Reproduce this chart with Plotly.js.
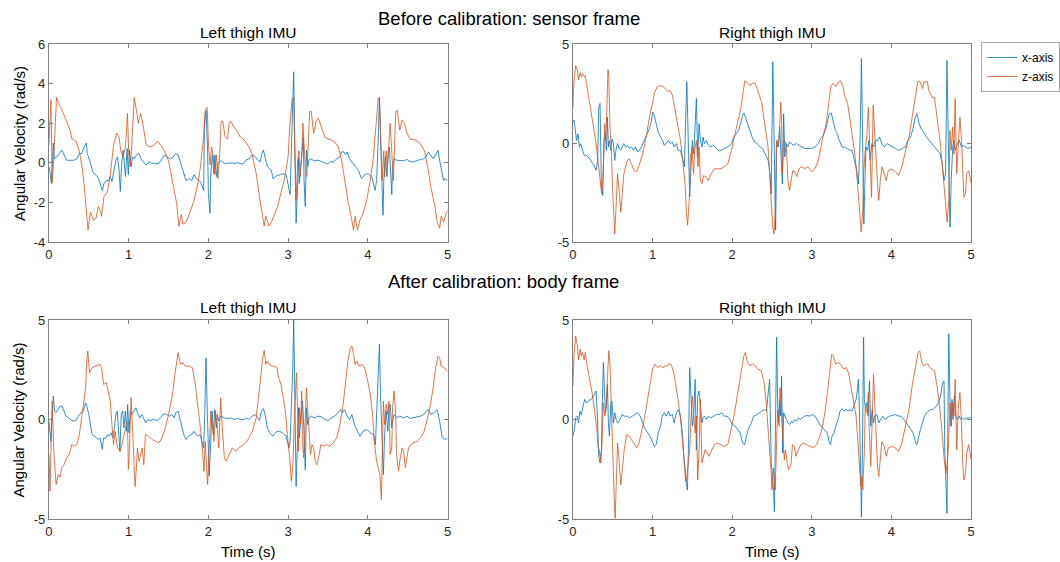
<!DOCTYPE html>
<html><head><meta charset="utf-8">
<script src="https://cdn.plot.ly/plotly-3.0.1.min.js"></script>
<style>html,body{margin:0;padding:0;background:#fff}#chart{width:1060px;height:562px}</style>
</head><body><div id="chart"></div>
<script>
// ---- data: [time (s), angular velocity (rad/s)] ----
const timeTicks = [0, 1, 2, 3, 4, 5];
const seriesNames = ['x-axis', 'z-axis'];
const panelTitles = ['Left thigh IMU', 'Right thigh IMU'];
const rowTitles = ['Before calibration: sensor frame', 'After calibration: body frame'];

const leftBeforeX = [[0,-0.2],[0.013,-0.45],[0.03,-1.05],[0.04,0.13],[0.055,1.0],[0.07,0.2],[0.1,0.3],[0.13,0.47],[0.16,0.64],[0.19,0.4],[0.22,0.13],[0.26,0.13],[0.31,0.13],[0.35,0.2],[0.38,0.47],[0.41,0.47],[0.44,0.8],[0.47,1.0],[0.48,0.47],[0.51,0.13],[0.53,-0.2],[0.55,-0.45],[0.58,-0.6],[0.61,-0.7],[0.63,-0.9],[0.67,-1.4],[0.69,-1.05],[0.72,-0.9],[0.75,-0.9],[0.77,-0.7],[0.79,-0.95],[0.82,-0.2],[0.84,0.13],[0.86,0.3],[0.88,-0.37],[0.895,-1.45],[0.91,-0.2],[0.93,0.64],[0.945,0],[0.96,-0.7],[0.98,0.72],[0.995,-0.6],[1.01,0.64],[1.03,-0.2],[1.05,0.3],[1.07,0.2],[1.1,0.4],[1.13,0.47],[1.155,0.2],[1.19,0.05],[1.22,-0.12],[1.25,0.05],[1.29,-0.03],[1.34,-0.03],[1.38,-0.03],[1.42,0.2],[1.45,0.4],[1.48,0.3],[1.525,0.2],[1.56,0.3],[1.59,0.47],[1.62,0.4],[1.64,0.13],[1.67,-0.2],[1.69,-0.55],[1.72,-0.9],[1.76,-0.8],[1.79,-0.9],[1.82,-0.6],[1.85,-0.8],[1.89,-0.9],[1.91,-1.05],[1.94,-1.4],[1.95,1.8],[1.97,2.65],[1.99,0.64],[2.0,-1.55],[2.02,-2.55],[2.03,-0.55],[2.05,0.4],[2.07,-0.55],[2.08,0.4],[2.1,-0.7],[2.12,0],[2.16,0.1],[2.2,-0.03],[2.24,-0.03],[2.28,0],[2.32,-0.03],[2.37,0],[2.43,-0.07],[2.47,0.13],[2.51,0.2],[2.55,0.4],[2.59,0.3],[2.62,0.13],[2.65,0.05],[2.67,0.47],[2.69,0.64],[2.71,0.3],[2.74,-0.2],[2.79,-0.37],[2.81,-0.8],[2.85,-0.67],[2.89,-0.6],[2.93,-0.55],[2.975,-0.6],[3.01,-1.2],[3.025,-1.6],[3.04,0.64],[3.06,2.8],[3.07,4.6],[3.08,2.0],[3.1,-3.05],[3.12,-1.05],[3.13,0.3],[3.14,-1.05],[3.16,0],[3.18,0.64],[3.19,1.3],[3.2,-0.9],[3.215,-2.2],[3.23,0.64],[3.245,-0.2],[3.26,0.13],[3.29,0.2],[3.32,0.1],[3.36,0.13],[3.4,0.1],[3.45,0],[3.49,-0.07],[3.53,0.05],[3.57,0.05],[3.61,0.2],[3.65,0.3],[3.67,0.55],[3.7,0.55],[3.72,0.4],[3.74,0.55],[3.77,0.2],[3.8,0.05],[3.84,-0.12],[3.88,-0.37],[3.92,-0.8],[3.96,-0.6],[4.0,-0.55],[4.05,-0.7],[4.09,-1.4],[4.11,-0.9],[4.13,1.15],[4.145,3.3],[4.16,1.15],[4.19,-2.65],[4.2,-0.9],[4.22,0.3],[4.24,-0.7],[4.255,0.47],[4.27,0.8],[4.29,-0.55],[4.3,-1.6],[4.31,-0.2],[4.33,0.2],[4.36,0.13],[4.4,0.13],[4.45,0.1],[4.49,0.17],[4.53,0.05],[4.57,0.05],[4.62,0.13],[4.66,0.17],[4.7,0.2],[4.73,0.3],[4.76,0.55],[4.79,0.4],[4.82,0.2],[4.85,0.4],[4.88,0.64],[4.9,0.13],[4.93,-0.55],[4.95,-0.9],[4.97,-0.8],[5.0,-0.9]];

const leftBeforeZ = [[0,0.9],[0.025,3.2],[0.04,-1.0],[0.06,0.2],[0.095,3.3],[0.13,2.9],[0.15,2.8],[0.18,2.5],[0.22,2.2],[0.26,1.7],[0.29,1.2],[0.34,1.1],[0.38,0.6],[0.42,-0.3],[0.45,-1.5],[0.48,-3.0],[0.49,-3.4],[0.52,-2.5],[0.56,-2.9],[0.59,-2.8],[0.62,-2.2],[0.65,-2.5],[0.66,-2.7],[0.69,-1.7],[0.73,-1.5],[0.77,-0.6],[0.81,0.9],[0.85,1.5],[0.88,1.3],[0.9,0.6],[0.93,0.3],[0.96,0.8],[0.985,2.5],[1.0,0.5],[1.02,-0.2],[1.04,1.0],[1.07,3.3],[1.1,2.6],[1.12,2.0],[1.15,2.5],[1.18,1.9],[1.22,0.9],[1.27,0.8],[1.32,0.9],[1.36,1.1],[1.4,0.9],[1.45,0.6],[1.5,0.1],[1.55,-0.9],[1.6,-2.0],[1.63,-3.2],[1.66,-2.6],[1.68,-3.1],[1.72,-3.0],[1.76,-2.6],[1.82,-1.9],[1.87,-1.0],[1.9,-0.2],[1.94,1.3],[1.96,2.7],[1.985,2.8],[2.0,1.0],[2.02,-0.1],[2.04,0.8],[2.06,0.3],[2.08,-0.6],[2.1,0.4],[2.12,-0.8],[2.14,0.3],[2.16,2.1],[2.18,2.1],[2.21,1.3],[2.24,1.2],[2.26,2.0],[2.28,2.1],[2.32,1.8],[2.36,1.6],[2.4,1.3],[2.45,1.15],[2.51,0.8],[2.55,0.4],[2.6,-0.55],[2.64,-1.7],[2.68,-2.7],[2.7,-3.2],[2.72,-2.7],[2.76,-3.2],[2.79,-3.0],[2.83,-2.6],[2.87,-2.2],[2.91,-1.5],[2.95,-0.9],[3.0,0.3],[3.02,1.8],[3.05,3.25],[3.07,3.3],[3.08,1.1],[3.1,-1.9],[3.12,0.1],[3.135,0.6],[3.15,-0.7],[3.17,0.3],[3.185,2.0],[3.2,0.8],[3.22,-0.5],[3.235,-0.7],[3.25,1.15],[3.27,2.6],[3.29,2.6],[3.32,1.5],[3.35,2.1],[3.38,2.25],[3.42,1.75],[3.46,1.3],[3.5,1.2],[3.54,1.15],[3.585,1.05],[3.63,0.8],[3.67,0.15],[3.71,-0.9],[3.75,-1.9],[3.8,-2.9],[3.82,-3.4],[3.84,-2.7],[3.87,-3.4],[3.9,-2.9],[3.94,-2.55],[3.985,-1.9],[4.03,-0.9],[4.07,0.3],[4.1,2.0],[4.13,3.25],[4.145,3.3],[4.16,1.1],[4.18,-0.9],[4.2,0.6],[4.21,-0.7],[4.23,0.6],[4.245,-0.2],[4.28,2.0],[4.3,0.6],[4.32,-0.9],[4.35,2.6],[4.37,2.65],[4.4,1.65],[4.43,2.15],[4.46,2.0],[4.49,1.5],[4.53,1.2],[4.6,1.15],[4.66,0.95],[4.71,0.6],[4.75,-0.2],[4.79,-1.2],[4.84,-2.2],[4.87,-3.0],[4.9,-3.3],[4.92,-2.7],[4.95,-3.0],[4.97,-2.7],[5.0,-2.4]];

const rightBeforeX = [[0,1.05],[0.013,1.15],[0.03,0.64],[0.046,0.13],[0.063,0.47],[0.08,-0.2],[0.097,-0.03],[0.118,-0.37],[0.14,-0.62],[0.164,-0.62],[0.19,-0.7],[0.214,-0.8],[0.24,-1.0],[0.265,-1.13],[0.29,-1.38],[0.31,-0.88],[0.324,1.8],[0.34,2.0],[0.357,-2.2],[0.374,-2.65],[0.39,0.13],[0.407,0.47],[0.42,-0.37],[0.433,1.3],[0.445,-0.2],[0.458,0.13],[0.475,-0.37],[0.49,0.2],[0.508,-0.03],[0.525,-0.88],[0.54,-0.37],[0.56,-0.03],[0.58,-0.28],[0.6,-0.37],[0.62,-0.2],[0.64,-0.03],[0.66,-0.2],[0.685,-0.12],[0.71,-0.28],[0.735,-0.2],[0.76,-0.37],[0.785,-0.2],[0.81,-0.45],[0.836,-0.37],[0.86,-0.2],[0.886,0.05],[0.91,0.3],[0.937,0.47],[0.96,0.72],[0.987,1.15],[1.0,1.57],[1.02,1.4],[1.046,0.98],[1.07,0.55],[1.1,0.3],[1.126,0.13],[1.147,-0.12],[1.17,-0.03],[1.2,0.13],[1.22,-0.03],[1.25,0.05],[1.27,-0.2],[1.3,-0.03],[1.32,-0.37],[1.35,-0.37],[1.37,-0.7],[1.4,-1.2],[1.416,1.3],[1.43,3.1],[1.45,-0.2],[1.466,-2.73],[1.483,-1.2],[1.5,0.13],[1.517,-0.55],[1.534,0.8],[1.55,2.25],[1.567,-0.7],[1.584,0.98],[1.6,0.13],[1.62,-0.2],[1.634,0.3],[1.65,-0.03],[1.676,0.13],[1.7,-0.12],[1.735,-0.2],[1.77,-0.12],[1.8,-0.28],[1.83,-0.37],[1.86,-0.37],[1.9,-0.28],[1.945,-0.2],[1.99,-0.03],[2.02,0.3],[2.05,0.47],[2.08,0.64],[2.105,0.98],[2.13,1.4],[2.147,1.52],[2.164,1.3],[2.19,0.98],[2.22,0.64],[2.25,0.3],[2.28,0.05],[2.315,-0.03],[2.35,-0.2],[2.38,-0.28],[2.42,-0.6],[2.45,-0.85],[2.47,-1.4],[2.49,-2.56],[2.51,4.1],[2.53,0.13],[2.545,-4.4],[2.56,0.13],[2.58,-0.2],[2.596,0.8],[2.61,-0.37],[2.63,-2.07],[2.646,1.48],[2.66,-0.7],[2.68,-0.03],[2.697,-0.2],[2.72,0.05],[2.747,-0.03],[2.77,-0.12],[2.806,-0.03],[2.84,-0.12],[2.87,-0.2],[2.91,-0.28],[2.954,-0.28],[2.996,-0.28],[3.038,-0.2],[3.08,-0.03],[3.11,0.22],[3.143,0.39],[3.17,0.64],[3.194,1.06],[3.22,1.48],[3.244,1.52],[3.27,0.98],[3.295,0.64],[3.32,0.47],[3.345,0.13],[3.38,-0.2],[3.41,-0.2],[3.446,-0.28],[3.48,-0.37],[3.505,-0.37],[3.53,-0.88],[3.564,-1.38],[3.585,-2.07],[3.606,0.13],[3.623,4.27],[3.636,0.13],[3.653,-4.08],[3.67,-1.55],[3.68,-0.2],[3.7,-0.37],[3.716,0.13],[3.733,-0.88],[3.754,-0.03],[3.775,-0.2],[3.8,0.13],[3.825,0.13],[3.85,0.3],[3.88,-0.03],[3.91,-0.2],[3.943,-0.03],[3.977,-0.12],[4.006,-0.2],[4.05,-0.28],[4.09,-0.37],[4.133,-0.28],[4.175,-0.2],[4.204,0.13],[4.24,0.3],[4.27,0.72],[4.3,1.3],[4.32,1.48],[4.347,0.98],[4.373,0.72],[4.406,0.55],[4.44,0.3],[4.474,0.13],[4.51,-0.03],[4.54,-0.2],[4.575,-0.37],[4.61,-0.54],[4.638,-1.05],[4.66,-1.9],[4.68,-1.55],[4.697,4.18],[4.714,0.13],[4.735,-4.25],[4.75,-1.9],[4.77,-0.2],[4.785,0.13],[4.8,-0.37],[4.83,-0.03],[4.853,0.13],[4.878,-0.2],[4.9,-0.12],[4.93,-0.2],[4.96,-0.28],[5.0,-0.2]];

const rightBeforeZ = [[0,1.8],[0.013,3.2],[0.034,3.9],[0.055,3.7],[0.07,3.2],[0.09,3.55],[0.105,3.35],[0.12,3.5],[0.14,3.35],[0.155,3.4],[0.17,3.0],[0.2,2.3],[0.24,1.3],[0.285,0.13],[0.315,-0.9],[0.34,-2.05],[0.36,-2.55],[0.375,-1.9],[0.39,0.5],[0.4,0.98],[0.41,0.13],[0.42,0.98],[0.44,3.7],[0.45,3.35],[0.465,0.8],[0.48,-0.2],[0.5,-2.55],[0.525,-4.6],[0.545,-2.9],[0.56,-1.55],[0.58,-2.4],[0.6,-3.5],[0.62,-2.55],[0.64,-1.55],[0.68,-0.9],[0.705,-0.8],[0.735,-1.05],[0.77,-1.4],[0.8,-1.45],[0.83,-1.15],[0.875,-0.55],[0.92,0.3],[0.96,1.3],[1.0,2.15],[1.03,2.6],[1.06,2.85],[1.1,2.9],[1.13,2.85],[1.16,2.75],[1.19,2.6],[1.22,2.65],[1.25,2.4],[1.28,1.65],[1.315,0.98],[1.35,0.13],[1.38,-0.9],[1.41,-2.2],[1.425,-3.55],[1.44,-4.15],[1.46,-2.9],[1.475,-0.7],[1.495,-0.2],[1.515,-1.55],[1.53,-0.37],[1.55,0.13],[1.57,-1.2],[1.585,-0.2],[1.6,-1.9],[1.62,-2.05],[1.64,-1.65],[1.67,-1.7],[1.7,-1.9],[1.735,-1.55],[1.78,-1.3],[1.82,-1.3],[1.86,-1.3],[1.9,-1.2],[1.945,-1.05],[1.99,-0.37],[2.03,0.3],[2.07,0.98],[2.11,1.8],[2.14,2.65],[2.16,3.15],[2.2,3.0],[2.23,2.9],[2.26,3.05],[2.29,3.0],[2.32,2.65],[2.37,2.05],[2.4,1.2],[2.42,0.64],[2.45,-0.2],[2.47,-1.55],[2.49,-2.9],[2.51,-4.25],[2.525,-4.6],[2.54,-3.55],[2.555,0.13],[2.57,-0.2],[2.59,0.3],[2.61,2.05],[2.62,1.15],[2.63,-1.55],[2.645,0.13],[2.66,0.13],[2.68,-0.2],[2.7,-1.9],[2.72,-2.4],[2.74,-1.9],[2.76,-1.4],[2.785,-1.45],[2.81,-1.7],[2.84,-1.3],[2.87,-1.2],[2.91,-1.3],[2.95,-1.2],[3.0,-1.45],[3.04,-1.3],[3.08,-0.9],[3.11,-0.2],[3.14,0.3],[3.18,0.98],[3.21,2.0],[3.24,2.9],[3.27,3.0],[3.3,2.85],[3.34,3.1],[3.36,3.15],[3.39,2.9],[3.41,2.4],[3.45,2.0],[3.48,1.15],[3.51,0.3],[3.54,-0.55],[3.57,-1.9],[3.6,-3.25],[3.62,-4.5],[3.64,-3.4],[3.65,-1.55],[3.67,-0.37],[3.69,0.3],[3.71,1.8],[3.73,-0.2],[3.75,-2.75],[3.77,1.9],[3.79,0.13],[3.81,-0.9],[3.825,-2.05],[3.84,-2.9],[3.86,-1.9],[3.88,-1.2],[3.91,-1.55],[3.935,-1.9],[3.96,-1.4],[4.0,-1.3],[4.05,-1.45],[4.09,-1.65],[4.13,-1.2],[4.17,-0.55],[4.22,0.3],[4.26,1.3],[4.3,2.3],[4.33,3.1],[4.36,3.1],[4.39,2.75],[4.41,3.1],[4.45,3.1],[4.47,2.65],[4.51,2.3],[4.54,2.3],[4.575,1.3],[4.61,0.13],[4.64,-1.2],[4.66,-2.05],[4.68,-3.25],[4.7,-4.0],[4.72,-2.9],[4.735,0.64],[4.75,-0.37],[4.77,0.8],[4.785,-0.55],[4.8,2.25],[4.82,-1.55],[4.84,0],[4.86,1.3],[4.88,0.13],[4.895,-1.9],[4.91,-2.75],[4.93,-2.55],[4.945,-1.55],[4.97,-1.4],[5.0,-2.05]];

const leftAfterX = [[0,-0.08],[0.013,-0.5],[0.025,-1.1],[0.04,0.25],[0.055,1.17],[0.07,0.42],[0.088,0.34],[0.113,0.5],[0.14,0.67],[0.164,0.67],[0.19,0.42],[0.214,0.17],[0.25,0.08],[0.286,-0.05],[0.33,-0.08],[0.37,0.17],[0.4,0.34],[0.43,0.42],[0.46,0.84],[0.475,0.67],[0.5,0.25],[0.52,-0.25],[0.54,-0.75],[0.57,-0.84],[0.59,-0.92],[0.62,-1.0],[0.64,-0.92],[0.67,-1.5],[0.685,-0.92],[0.71,-0.96],[0.735,-0.75],[0.76,-0.84],[0.78,-0.67],[0.8,-0.92],[0.82,-0.42],[0.84,0.25],[0.857,0.42],[0.874,-0.59],[0.89,-1.6],[0.907,0.25],[0.924,0.42],[0.94,-0.42],[0.958,0.42],[0.975,-0.59],[0.987,0.75],[1.004,-0.67],[1.02,0.42],[1.04,0.25],[1.063,0.42],[1.09,0.59],[1.11,0.34],[1.14,0.08],[1.164,0.25],[1.19,0],[1.214,-0.17],[1.24,0],[1.27,-0.05],[1.315,0],[1.357,-0.05],[1.4,0.08],[1.44,0.29],[1.475,0.25],[1.51,0.17],[1.54,0.25],[1.57,0.08],[1.59,0.34],[1.62,0.42],[1.64,0.08],[1.67,-0.42],[1.69,-0.75],[1.72,-1.0],[1.75,-0.84],[1.79,-0.75],[1.82,-0.59],[1.845,-0.75],[1.87,-0.84],[1.895,-0.75],[1.92,-1.1],[1.94,-1.43],[1.954,0.25],[1.97,3.1],[1.987,0.25],[2.0,-1.76],[2.01,-2.85],[2.03,-1.1],[2.046,0.42],[2.063,-0.75],[2.08,0.5],[2.1,-0.42],[2.113,0.25],[2.13,-0.08],[2.155,0.17],[2.2,0.08],[2.24,0.05],[2.28,0.08],[2.32,0],[2.365,0.05],[2.41,0],[2.45,0],[2.47,0.08],[2.51,0],[2.55,0.17],[2.59,0.25],[2.62,0.08],[2.64,-0.05],[2.66,0.34],[2.69,0.55],[2.71,0.25],[2.74,-0.42],[2.77,-0.67],[2.81,-0.84],[2.85,-0.62],[2.89,-0.59],[2.93,-0.67],[2.975,-0.84],[3.01,-1.43],[3.025,-1.1],[3.04,0.59],[3.06,2.77],[3.07,5.1],[3.08,1.93],[3.1,-3.36],[3.12,-0.75],[3.13,0.59],[3.14,-0.92],[3.16,0.25],[3.18,0.92],[3.19,0.25],[3.2,-1.43],[3.215,-2.52],[3.23,0.59],[3.245,-0.25],[3.26,0.08],[3.29,0.17],[3.33,0.08],[3.37,0.17],[3.42,0.12],[3.46,0],[3.5,-0.05],[3.54,0.08],[3.585,0.17],[3.63,0.34],[3.66,0.5],[3.68,0.34],[3.71,0.5],[3.73,0.25],[3.77,0],[3.8,0.25],[3.83,-0.25],[3.87,-0.59],[3.9,-0.84],[3.94,-0.59],[3.985,-0.5],[4.03,-0.67],[4.07,-0.75],[4.095,-1.26],[4.11,0.25],[4.13,1.93],[4.145,3.78],[4.16,1.09],[4.18,-1.6],[4.195,-2.77],[4.21,-0.75],[4.23,0.42],[4.25,-0.59],[4.265,0.59],[4.28,0.76],[4.3,-0.42],[4.31,-0.08],[4.33,0.25],[4.36,0.08],[4.4,0.17],[4.45,0.08],[4.49,0.17],[4.53,0.05],[4.57,0.08],[4.62,0.12],[4.66,0.17],[4.7,0.25],[4.73,0.42],[4.76,0.5],[4.79,0.25],[4.83,0.34],[4.87,0.5],[4.9,-0.08],[4.93,-0.84],[4.96,-1.0],[5.0,-0.96]];

const leftAfterZ = [[0,-1.76],[0.013,-3.6],[0.04,0.92],[0.06,-1.5],[0.09,-3.27],[0.118,-2.77],[0.14,-2.9],[0.16,-2.43],[0.19,-2.27],[0.22,-1.93],[0.256,-1.76],[0.286,-1.26],[0.315,-1.34],[0.35,-1.26],[0.382,-0.75],[0.41,0.08],[0.43,0.75],[0.46,1.6],[0.475,2.94],[0.487,3.44],[0.51,2.35],[0.54,2.6],[0.58,2.68],[0.64,2.77],[0.66,2.6],[0.685,1.76],[0.72,1.85],[0.77,0.92],[0.79,-0.25],[0.81,-1.26],[0.83,-0.59],[0.86,-1.43],[0.895,-1.6],[0.93,-0.92],[0.96,-0.42],[0.98,-0.1],[0.99,-1.1],[0.996,-2.5],[1.01,-1.43],[1.03,1.09],[1.046,-0.25],[1.063,-1.76],[1.08,-3.36],[1.097,-2.43],[1.11,-1.43],[1.13,-2.1],[1.155,-1.68],[1.17,-1.43],[1.19,-2.27],[1.21,-0.75],[1.25,-0.84],[1.29,-1.0],[1.335,-1.1],[1.38,-1.17],[1.42,-0.92],[1.46,-0.42],[1.5,0.25],[1.55,1.26],[1.58,2.27],[1.61,3.27],[1.62,3.36],[1.65,2.77],[1.68,2.85],[1.71,2.68],[1.76,2.68],[1.8,2.6],[1.83,1.93],[1.86,0.92],[1.9,-0.42],[1.93,-1.76],[1.945,-2.6],[1.96,-1.1],[1.97,-1.93],[1.99,-3.27],[2.01,-1.43],[2.03,0.42],[2.05,-0.25],[2.07,-1.1],[2.09,0.42],[2.11,-0.25],[2.13,-1.43],[2.155,1.09],[2.175,-0.42],[2.19,-1.1],[2.2,-1.93],[2.22,-2.1],[2.26,-1.76],[2.3,-1.43],[2.345,-1.6],[2.38,-1.43],[2.43,-1.3],[2.47,-1.17],[2.51,-0.92],[2.55,-0.59],[2.6,0.08],[2.63,1.09],[2.66,2.27],[2.68,3.1],[2.7,3.47],[2.72,2.77],[2.74,2.94],[2.76,2.77],[2.8,2.68],[2.83,2.68],[2.86,2.6],[2.88,2.1],[2.91,1.76],[2.94,1.09],[2.97,0.25],[2.99,-0.75],[3.02,-1.93],[3.04,-3.1],[3.06,-2.27],[3.08,0.25],[3.09,1.09],[3.105,2.35],[3.12,0.25],[3.13,-1.6],[3.14,0.59],[3.155,-0.25],[3.17,1.43],[3.18,-1.1],[3.195,-1.93],[3.21,-0.08],[3.22,0.92],[3.23,1.6],[3.25,0.25],[3.27,-1.1],[3.28,-1.76],[3.3,-1.26],[3.32,-1.43],[3.34,-2.1],[3.36,-2.27],[3.39,-1.76],[3.41,-1.26],[3.45,-1.34],[3.48,-1.26],[3.52,-1.34],[3.56,-1.22],[3.61,-0.92],[3.65,-0.25],[3.69,0.76],[3.72,1.93],[3.75,2.94],[3.78,3.6],[3.8,3.69],[3.82,3.27],[3.84,2.77],[3.86,2.94],[3.89,2.68],[3.93,2.77],[3.96,2.6],[3.99,2.1],[4.03,1.26],[4.06,0.25],[4.08,-1.1],[4.11,-2.1],[4.13,-2.43],[4.15,-2.77],[4.17,-4.03],[4.18,-2.27],[4.195,0.92],[4.21,-0.25],[4.23,0.76],[4.25,0.25],[4.265,0.92],[4.28,-1.76],[4.3,-1.43],[4.31,0.59],[4.33,1.43],[4.35,0.25],[4.36,-1.76],[4.385,-2.6],[4.4,-2.1],[4.43,-1.43],[4.45,-1.6],[4.47,-2.43],[4.49,-1.93],[4.51,-1.43],[4.54,-1.26],[4.57,-1.17],[4.62,-1.1],[4.66,-0.92],[4.7,-0.67],[4.74,-0.08],[4.785,0.76],[4.82,1.6],[4.85,2.6],[4.88,3.19],[4.9,3.1],[4.92,2.68],[4.945,2.63],[4.97,2.52],[5.0,2.43]];

const rightAfterX = [[0,-0.84],[0.017,-0.5],[0.034,0.08],[0.055,0.17],[0.07,-0.17],[0.088,0.42],[0.105,0.25],[0.12,0.59],[0.147,1.01],[0.17,0.84],[0.2,0.93],[0.22,1.01],[0.25,1.1],[0.27,1.26],[0.29,1.43],[0.307,0.17],[0.324,-1.85],[0.34,-2.19],[0.357,-1.52],[0.37,1.01],[0.382,2.87],[0.395,1.52],[0.408,0.34],[0.42,0.67],[0.433,1.77],[0.445,-0.17],[0.458,-0.84],[0.475,0.84],[0.49,0.93],[0.508,-0.17],[0.525,0.34],[0.54,0],[0.567,-0.17],[0.59,0],[0.617,0.25],[0.643,0.17],[0.676,0.17],[0.71,0.08],[0.744,0.17],[0.777,0.25],[0.81,0.34],[0.845,0.17],[0.874,-0.17],[0.9,-0.42],[0.937,-0.67],[0.97,-0.84],[0.996,-1.1],[1.02,-1.35],[1.046,-1.26],[1.07,-0.67],[1.1,-0.34],[1.12,0.17],[1.147,0.34],[1.17,0.17],[1.2,0.42],[1.22,0.17],[1.25,0.25],[1.27,-0.17],[1.3,0.34],[1.32,0.5],[1.35,0.17],[1.374,-0.67],[1.39,-1.69],[1.41,-2.7],[1.424,-3.2],[1.437,-3.54],[1.45,-1.52],[1.466,2.61],[1.483,1.18],[1.5,-0.34],[1.517,0.17],[1.534,2.02],[1.55,-1.52],[1.567,1.18],[1.584,1.43],[1.6,0.5],[1.62,-0.17],[1.634,0.08],[1.65,0.17],[1.676,0],[1.7,0.17],[1.735,0.08],[1.77,0.17],[1.8,0.25],[1.836,0.25],[1.87,0.34],[1.9,0.17],[1.937,0.17],[1.97,0],[2.0,-0.25],[2.04,-0.34],[2.07,-0.5],[2.1,-0.67],[2.13,-1.18],[2.155,-1.26],[2.18,-0.84],[2.2,-0.5],[2.24,-0.17],[2.27,0.17],[2.31,0.25],[2.34,0.34],[2.37,0.42],[2.41,0.5],[2.43,0.42],[2.448,1.18],[2.47,2.02],[2.49,-2.19],[2.5,-2.53],[2.52,-3.54],[2.53,-4.64],[2.545,0.17],[2.558,4.13],[2.57,1.01],[2.58,-0.17],[2.596,1.01],[2.61,0.17],[2.62,2.19],[2.635,-1.69],[2.646,0.34],[2.66,0.17],[2.68,0],[2.7,-0.17],[2.72,-0.25],[2.743,-0.08],[2.764,-0.17],[2.785,0],[2.806,-0.08],[2.83,0.08],[2.857,0],[2.88,0.08],[2.91,0.17],[2.94,0.2],[2.975,0.17],[3.008,0.25],[3.038,0.17],[3.067,0],[3.1,-0.25],[3.135,-0.42],[3.17,-0.59],[3.194,-0.67],[3.22,-1.18],[3.236,-1.26],[3.253,-0.84],[3.28,-0.67],[3.3,-0.34],[3.33,0],[3.354,0.42],[3.38,0.54],[3.404,0.42],[3.43,0.5],[3.455,0.42],[3.48,0.5],[3.505,0.42],[3.53,0.67],[3.556,1.01],[3.573,1.52],[3.585,2.02],[3.6,0.17],[3.61,-2.36],[3.623,-4.89],[3.636,-1.52],[3.65,4.13],[3.66,1.01],[3.674,0.5],[3.69,0.84],[3.707,0.17],[3.724,1.94],[3.74,-0.34],[3.758,0.5],[3.775,-0.17],[3.79,0.17],[3.817,0.25],[3.84,-0.17],[3.867,0],[3.89,0.17],[3.918,0],[3.943,0.08],[3.977,0.17],[4.01,0.2],[4.05,0.25],[4.09,0.17],[4.12,0.17],[4.154,0],[4.187,-0.17],[4.22,-0.34],[4.246,-0.5],[4.27,-0.67],[4.29,-1.01],[4.305,-1.18],[4.32,-1.26],[4.34,-0.84],[4.364,-0.5],[4.39,-0.17],[4.415,0.17],[4.44,0.34],[4.465,0.42],[4.49,0.5],[4.516,0.5],[4.54,0.59],[4.566,0.67],[4.59,0.84],[4.617,1.18],[4.642,1.85],[4.66,1.94],[4.67,-1.52],[4.684,-2.87],[4.697,-4.72],[4.71,0.17],[4.72,4.3],[4.735,1.01],[4.747,-0.34],[4.76,1.01],[4.773,0],[4.79,1.18],[4.806,0.17],[4.827,0],[4.85,0.17],[4.87,0],[4.89,0.08],[4.91,0],[4.954,0.08],[5.0,0.08]];

const rightAfterZ = [[0,1.69],[0.013,3.2],[0.034,4.2],[0.055,3.7],[0.07,3.0],[0.09,3.54],[0.105,3.2],[0.12,3.37],[0.14,3.0],[0.155,3.37],[0.17,2.87],[0.2,2.28],[0.24,1.35],[0.27,0.5],[0.3,-0.5],[0.315,-1.35],[0.33,-1.52],[0.35,-2.19],[0.365,-1.18],[0.38,0.84],[0.4,0.17],[0.416,0.67],[0.433,2.19],[0.45,3.46],[0.466,2.7],[0.483,0.17],[0.5,-2.53],[0.517,-3.88],[0.53,-4.97],[0.546,-2.36],[0.56,-1.18],[0.576,-1.85],[0.6,-3.29],[0.62,-2.53],[0.643,-1.52],[0.676,-0.76],[0.706,-0.84],[0.735,-1.01],[0.77,-1.26],[0.8,-1.43],[0.83,-1.18],[0.86,-0.67],[0.895,0],[0.937,1.01],[0.97,1.85],[1.0,2.53],[1.03,2.78],[1.063,2.61],[1.1,2.7],[1.13,2.61],[1.164,2.7],[1.19,2.7],[1.214,2.83],[1.24,2.7],[1.265,2.36],[1.294,1.69],[1.32,1.01],[1.357,-0.17],[1.38,-1.35],[1.4,-2.36],[1.416,-3.12],[1.43,-2.87],[1.45,-2.02],[1.466,-1.52],[1.483,0.17],[1.5,1.18],[1.517,0.17],[1.534,-0.67],[1.55,0.17],[1.567,-3.04],[1.584,-1.52],[1.6,1.01],[1.62,-2.19],[1.634,-1.94],[1.66,-1.52],[1.685,-1.69],[1.71,-1.85],[1.744,-1.52],[1.777,-1.26],[1.82,-1.18],[1.86,-1.26],[1.9,-1.35],[1.945,-1.26],[1.99,-0.5],[2.03,0.34],[2.07,1.35],[2.11,2.36],[2.147,3.2],[2.164,3.37],[2.19,2.87],[2.22,2.7],[2.256,2.78],[2.29,2.7],[2.32,2.53],[2.366,2.45],[2.4,1.85],[2.43,0.7],[2.45,-0.34],[2.47,-1.69],[2.49,-2.7],[2.5,-3.54],[2.52,-2.45],[2.54,-3.54],[2.555,-1.52],[2.57,0.5],[2.59,-0.34],[2.6,1.6],[2.62,0.17],[2.64,-1.52],[2.655,-2.02],[2.67,-1.52],[2.69,-2.19],[2.71,-2.53],[2.74,-2.19],[2.756,-1.26],[2.78,-1.35],[2.8,-1.85],[2.83,-1.52],[2.865,-1.26],[2.9,-1.18],[2.93,-1.26],[2.975,-1.35],[3.02,-1.43],[3.06,-1.26],[3.1,-0.84],[3.135,-0.34],[3.17,0.5],[3.2,1.52],[3.23,2.53],[3.25,3.29],[3.27,3.2],[3.3,2.78],[3.33,2.87],[3.36,2.78],[3.4,2.53],[3.43,2.61],[3.46,2.36],[3.49,1.69],[3.52,1.01],[3.556,0.17],[3.58,-1.18],[3.6,-2.7],[3.615,-3.37],[3.63,-2.87],[3.64,-3.54],[3.66,-1.52],[3.67,0.5],[3.69,0.34],[3.71,1.35],[3.72,-0.34],[3.74,-2.36],[3.76,0.17],[3.775,2.28],[3.79,0.84],[3.81,-1.18],[3.825,-2.36],[3.84,-2.87],[3.86,-1.85],[3.88,-1.1],[3.91,-1.35],[3.935,-1.85],[3.96,-1.43],[4.0,-1.35],[4.05,-1.43],[4.09,-1.6],[4.13,-1.18],[4.17,-0.5],[4.22,0.5],[4.26,1.69],[4.3,2.7],[4.335,3.37],[4.356,3.46],[4.38,2.87],[4.406,2.7],[4.43,2.78],[4.457,2.78],[4.48,2.61],[4.51,2.53],[4.54,2.45],[4.566,1.85],[4.596,1.01],[4.625,-0.17],[4.65,-1.52],[4.667,-2.19],[4.684,-2.7],[4.7,-2.19],[4.718,-1.18],[4.735,0.84],[4.75,-0.34],[4.77,0.84],[4.785,0.17],[4.8,2.02],[4.82,-1.52],[4.84,0.67],[4.86,1.35],[4.88,-0.17],[4.895,-2.19],[4.91,-3.04],[4.93,-2.7],[4.945,-1.69],[4.97,-1.26],[5.0,-2.02]];

// ---- styling ----
const BLUE = '#0072BD', ORANGE = '#D95319';
const FONT = '"Liberation Sans", Arial, Helvetica, sans-serif';
const W = 1060, H = 562;

const panels = [
  {xs: leftBeforeX,  zs: leftBeforeZ,  ax: '',  legend: true},
  {xs: rightBeforeX, zs: rightBeforeZ, ax: '2', legend: false},
  {xs: leftAfterX,   zs: leftAfterZ,   ax: '3', legend: false},
  {xs: rightAfterX,  zs: rightAfterZ,  ax: '4', legend: false}
];

const traces = [];
panels.forEach(p => {
  [[p.xs, BLUE, seriesNames[0]], [p.zs, ORANGE, seriesNames[1]]].forEach(([pts, col, nm]) => {
    traces.push({
      type: 'scatter', mode: 'lines', name: nm,
      x: pts.map(d => d[0]), y: pts.map(d => d[1]),
      xaxis: 'x' + p.ax, yaxis: 'y' + p.ax,
      line: {color: col, width: 0.8},
      showlegend: p.legend, hoverinfo: 'skip'
    });
  });
});

function xAx(l, r, anchor) {
  return {
    domain: [l / W, r / W], anchor: anchor, range: [0, 5],
    tickmode: 'array', tickvals: timeTicks, ticktext: timeTicks.map(String),
    ticks: 'inside', ticklen: 4, tickcolor: '#808080', tickwidth: 1,
    showline: true, mirror: 'ticks', linecolor: '#808080', linewidth: 1,
    showgrid: false, zeroline: false,
    tickfont: {family: FONT, size: 13, color: '#262626'}
  };
}
function yAx(top, bot, anchor, range, vals) {
  return {
    domain: [1 - bot / H, 1 - top / H], anchor: anchor, range: range,
    tickmode: 'array', tickvals: vals, ticktext: vals.map(String),
    ticks: 'inside', ticklen: 4, tickcolor: '#808080', tickwidth: 1,
    showline: true, mirror: 'ticks', linecolor: '#808080', linewidth: 1,
    showgrid: false, zeroline: false,
    tickfont: {family: FONT, size: 13, color: '#262626'}
  };
}

const L0 = 49, L1 = 448, R0 = 573.5, R1 = 972;
const T0 = 44, T1 = 242, B0 = 320, B1 = 519;

function ann(text, x, y, size, angle) {
  return {text: text, x: x / W, y: 1 - y / H, xref: 'paper', yref: 'paper',
    xanchor: 'center', yanchor: 'middle', showarrow: false, textangle: angle || 0,
    font: {family: FONT, size: size, color: '#000'}};
}

const layout = {
  width: W, height: H, autosize: false,
  margin: {l: 0, r: 0, t: 0, b: 0},
  paper_bgcolor: '#fff', plot_bgcolor: '#fff',
  showlegend: true,
  legend: {x: 982 / W, y: 1 - 42 / H, xanchor: 'left', yanchor: 'top',
    bgcolor: '#fff', bordercolor: '#a6a6a6', borderwidth: 1,
    font: {family: FONT, size: 12, color: '#000'}, itemwidth: 30, tracegroupgap: 0},
  xaxis:  xAx(L0, L1, 'y'),  yaxis:  yAx(T0, T1, 'x',  [-4, 6], [-4, -2, 0, 2, 4, 6]),
  xaxis2: xAx(R0, R1, 'y2'), yaxis2: yAx(T0, T1, 'x2', [-5, 5], [-5, 0, 5]),
  xaxis3: xAx(L0, L1, 'y3'), yaxis3: yAx(B0, B1, 'x3', [-5, 5], [-5, 0, 5]),
  xaxis4: xAx(R0, R1, 'y4'), yaxis4: yAx(B0, B1, 'x4', [-5, 5], [-5, 0, 5]),
  annotations: [
    ann(rowTitles[0], 509.5, 18, 18.5),
    ann(rowTitles[1], 504, 281, 18.5),
    ann(panelTitles[0], (L0 + L1) / 2, 32, 15.5),
    ann(panelTitles[1], (R0 + R1) / 2, 32, 15.5),
    ann(panelTitles[0], (L0 + L1) / 2, 307, 15.5),
    ann(panelTitles[1], (R0 + R1) / 2, 307, 15.5),
    ann('Angular Velocity (rad/s)', 19, (T0 + T1) / 2, 15, -90),
    ann('Angular Velocity (rad/s)', 19, (B0 + B1) / 2, 15, -90),
    ann('Time (s)', (L0 + L1) / 2, 551, 15),
    ann('Time (s)', (R0 + R1) / 2, 551, 15)
  ]
};

Plotly.newPlot('chart', traces, layout, {staticPlot: true, displayModeBar: false});
</script>
</body></html>
